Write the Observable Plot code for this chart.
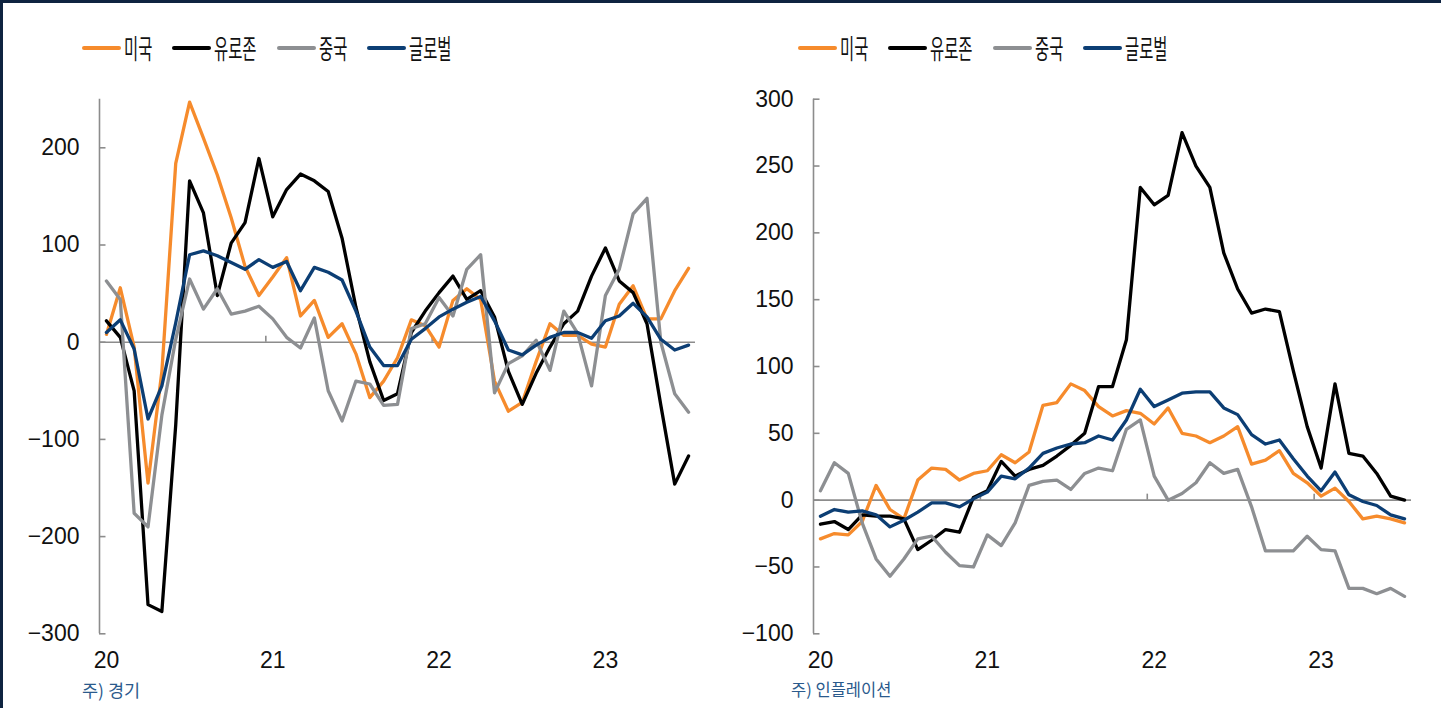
<!DOCTYPE html>
<html>
<head>
<meta charset="utf-8">
<script src="https://cdn.jsdelivr.net/npm/d3@7"></script>
<script src="https://cdn.jsdelivr.net/npm/@observablehq/plot@0.6"></script>
<style>
  html, body { margin: 0; padding: 0; background: #fff; }
  #wrap { position: relative; width: 1441px; height: 708px; overflow: hidden; background: #fff; }
  #topbar { position: absolute; left: 0; top: 0; width: 1441px; height: 3px; background: #0e2340; }
  #leftbar { position: absolute; left: 0; top: 0; width: 3px; height: 708px; background: #0e2340; }
  .panel { position: absolute; top: 0; }
  .legend { position: absolute; top: 35px; height: 26px; display: flex; align-items: center; }
  .item { display: flex; align-items: center; margin-right: 18px; }
  .sw { width: 39px; height: 4px; border-radius: 2px; margin-right: 3px; }
  .txt { display: inline-block; height: 26px; overflow: visible; white-space: nowrap; }
  .txt span { display: inline-block; font-family: "Noto Sans CJK KR", "Noto Sans", sans-serif; font-size: 27px; line-height: 26px; color: #111; transform: scaleX(0.57); transform-origin: left center; }
  .note { position: absolute; font-family: "Noto Sans CJK KR", "Noto Sans", sans-serif; color: #2b5a8c; white-space: nowrap; }
</style>
</head>
<body>
<div id="wrap">
  <div id="topbar"></div>
  <div id="leftbar"></div>
</div>
<script>
// ---- data ----
const seriesNames = ["미국", "유로존", "중국", "글로벌"];
const seriesColors = ["#f68b2c", "#000000", "#8d8f92", "#0c3e74"];
const yearLabels = ["20", "21", "22", "23"];
const econTicks = [-300, -200, -100, 0, 100, 200];
const inflTicks = [-100, -50, 0, 50, 100, 150, 200, 250, 300];
const noteLeft = "주) 경기";
const noteRight = "주) 인플레이션";

// 경기 (Jan 2020 - Jul 2023, monthly)
const econUS = [8, 56, -5, -145, -30, 184, 247, 210, 172, 128, 78, 48, 67, 87, 27, 43, 5, 19, -12, -57, -40, -16, 23, 17, -5, 43, 55, 44, -40, -71, -62, -20, 19, 7, 7, -2, -5, 39, 58, 24, 24, 53, 76];
const econEU = [22, 5, -50, -270, -277, -85, 166, 133, 48, 102, 123, 189, 129, 157, 173, 166, 155, 107, 36, -20, -60, -53, 10, 32, 51, 68, 44, 53, 26, -30, -64, -32, -5, 19, 32, 68, 97, 63, 51, 19, -65, -146, -117];
const econCN = [63, 44, -176, -190, -75, 3, 65, 34, 55, 29, 32, 37, 24, 5, -6, 25, -50, -81, -40, -43, -65, -64, 14, 19, 46, 27, 75, 90, -52, -22, -14, 2, -29, 32, 9, -45, 48, 75, 132, 148, 0, -53, -72];
const econGL = [10, 23, -7, -79, -45, 20, 90, 94, 89, 82, 75, 85, 77, 83, 53, 77, 72, 64, 32, -5, -24, -24, 3, 14, 26, 34, 41, 47, 22, -8, -13, -3, 5, 10, 10, 4, 22, 27, 40, 26, 3, -8, -3];

// 인플레이션 (Jan 2020 - Jul 2023, monthly)
const inflUS = [-29, -25, -26, -16, 11, -7, -14, 15, 24, 23, 15, 20, 22, 34, 28, 36, 71, 73, 87, 82, 70, 63, 67, 65, 57, 69, 50, 48, 43, 48, 55, 27, 30, 37, 20, 13, 3, 9, -1, -14, -12, -14, -17];
const inflEU = [-18, -16, -22, -11, -12, -12, -14, -37, -30, -22, -24, 2, 7, 29, 18, 23, 26, 33, 41, 50, 85, 85, 120, 234, 221, 228, 275, 250, 234, 185, 158, 140, 143, 141, 97, 55, 24, 87, 35, 33, 20, 3, 0];
const inflCN = [7, 28, 20, -17, -44, -57, -44, -29, -27, -39, -49, -50, -26, -34, -17, 11, 14, 15, 8, 20, 24, 22, 53, 60, 18, 0, 5, 13, 28, 20, 23, -5, -38, -38, -38, -27, -37, -38, -66, -66, -70, -66, -72];
const inflGL = [-12, -7, -9, -8, -11, -20, -15, -9, -2, -2, -5, 1, 6, 18, 16, 24, 35, 39, 42, 43, 48, 45, 60, 83, 70, 75, 80, 81, 81, 69, 64, 49, 42, 45, 31, 18, 7, 21, 4, -1, -4, -11, -14];

const nMonths = econUS.length;
const yearStarts = yearLabels.map((_, k) => k * 12);

function makePanel({series, yDomain, yTicks, width, marginLeft, marginRight}) {
  const marginTop = 98.7, height = 708, marginBottom = 708 - 633.3;
  const plotH = height - marginTop - marginBottom;
  const unitsPerPx = (yDomain[1] - yDomain[0]) / plotH;
  const unitsPerPxX = nMonths / (width - marginLeft - marginRight);
  const axisColor = "#8c8c8c";
  return Plot.plot({
    width, height, marginLeft, marginRight, marginTop, marginBottom,
    x: {domain: [0, nMonths], label: null},
    y: {domain: yDomain, label: null},
    style: {fontFamily: "'Liberation Sans', Arial, sans-serif", fontSize: "23px", color: "#111", background: "transparent", overflow: "visible"},
    marks: [
      Plot.ruleY([0], {stroke: axisColor, strokeWidth: 1.6}),
      Plot.ruleX([0], {stroke: axisColor, strokeWidth: 1.6}),
      Plot.ruleY(yTicks, {x1: 0, x2: 6.5 * unitsPerPxX, stroke: axisColor, strokeWidth: 1.6}),
      Plot.ruleX(yearStarts.slice(1), {y1: 0, y2: 6 * unitsPerPx, stroke: axisColor, strokeWidth: 1.6}),
      Plot.axisY({ticks: yTicks, tickSize: 0, tickPadding: 20, label: null}),
      Plot.axisX({ticks: yearStarts.map(d => d + 0.5), tickFormat: d => yearLabels[Math.floor(d / 12)], tickSize: 0, tickPadding: 18, label: null}),
      ...series.map((vals, k) => Plot.line(vals, {
        x: (d, i) => i + 0.5, y: d => d,
        stroke: seriesColors[k], strokeWidth: 3.3, strokeLinejoin: "round", strokeLinecap: "round"
      }))
    ]
  });
}

const wrap = document.getElementById("wrap");

const left = makePanel({series: [econUS, econEU, econCN, econGL], yDomain: [-300, 250], yTicks: econTicks, width: 720, marginLeft: 99, marginRight: 25});
left.classList.add("panel");
left.style.left = "0px";
wrap.appendChild(left);

const right = makePanel({series: [inflUS, inflEU, inflCN, inflGL], yDomain: [-100, 300], yTicks: inflTicks, width: 721, marginLeft: 93, marginRight: 30});
right.classList.add("panel");
right.style.left = "720px";
wrap.appendChild(right);

function addLegend(x0) {
  const lg = document.createElement("div");
  lg.className = "legend";
  lg.style.left = x0 + "px";
  seriesNames.forEach((name, k) => {
    const it = document.createElement("div");
    it.className = "item";
    const sw = document.createElement("div");
    sw.className = "sw";
    sw.style.background = seriesColors[k];
    const tx = document.createElement("div");
    tx.className = "txt";
    tx.style.width = (name.length * 15) + "px";
    const sp = document.createElement("span");
    sp.textContent = name;
    tx.appendChild(sp);
    it.appendChild(sw);
    it.appendChild(tx);
    lg.appendChild(it);
  });
  wrap.appendChild(lg);
}
addLegend(82);
addLegend(798);

function addNote(text, x, size) {
  const n = document.createElement("div");
  n.className = "note";
  n.textContent = text;
  n.style.left = x + "px";
  n.style.top = "677px";
  n.style.fontSize = size + "px";
  wrap.appendChild(n);
}
addNote(noteLeft, 82, 17.5);
addNote(noteRight, 791, 16.5);
</script>
</body>
</html>
